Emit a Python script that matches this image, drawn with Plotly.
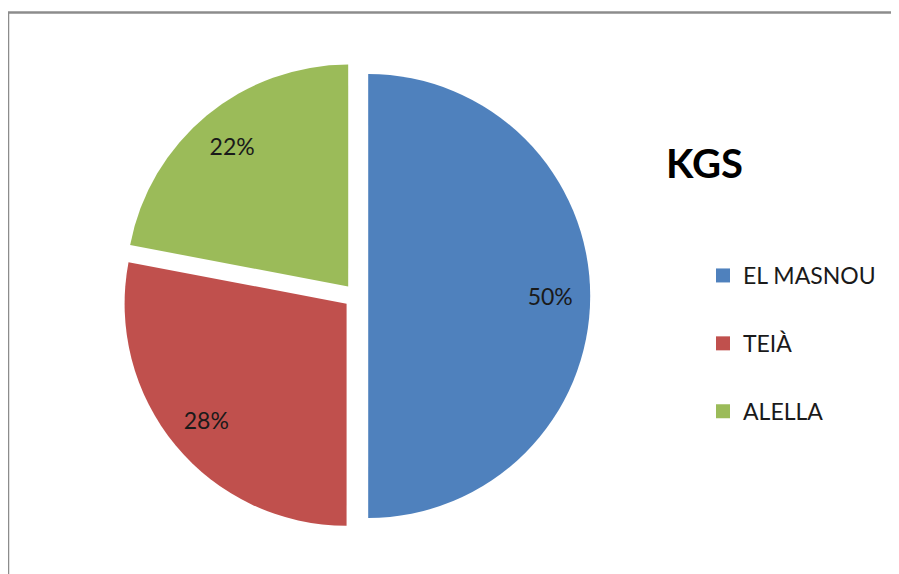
import plotly.graph_objects as go

labels = ["EL MASNOU", "TEIÀ", "ALELLA"]
values = [50, 28, 22]
colors = ["#4F81BD", "#C0504D", "#9BBB59"]
title_text = "KGS"

# page has an 8px body margin; work in page pixel coords and convert
OFF = 8
W, H = 899, 574 - OFF


def px(x):
    return (x - OFF) / W


def py(y):
    return 1 - (y - OFF) / H


cx, cy, rad, pull = 356, 296, 222, 0.055
half = rad * (1 + pull)
domain = dict(x=[px(cx - half), px(cx + half)], y=[py(cy + half), py(cy - half)])

fig = go.Figure()
fig.add_trace(go.Pie(
    labels=labels, values=values, sort=False, direction="clockwise", rotation=0,
    marker=dict(colors=colors, line=dict(width=0)),
    pull=[pull] * len(values), textinfo="none",
    showlegend=False, hoverinfo="label+percent", domain=domain,
))
# transparent ring overlay to place percentage labels near the outer rim
fig.add_trace(go.Pie(
    labels=labels, values=values, sort=False, direction="clockwise", rotation=0,
    hole=0.64,
    marker=dict(colors=["rgba(0,0,0,0)"] * len(values), line=dict(width=0)),
    pull=[pull] * len(values),
    textinfo="percent", textposition="inside", insidetextorientation="horizontal",
    textfont=dict(family="Lato", size=23, color="#1a1a1a"),
    showlegend=False, hoverinfo="skip", domain=domain,
))
for lab, col in zip(labels, colors):
    fig.add_trace(go.Scatter(
        x=[None], y=[None], mode="markers", name=lab, legendgroup=lab,
        marker=dict(symbol="square", size=14, color=col),
    ))

fig.update_layout(
    width=W, height=H, margin=dict(l=0, r=0, t=0, b=0),
    paper_bgcolor="white", plot_bgcolor="white",
    xaxis=dict(visible=False), yaxis=dict(visible=False),
    title=dict(text="<b>" + title_text + "</b>", x=px(666), xanchor="left",
               y=py(164), yanchor="middle",
               font=dict(family="Lato", size=40, color="#000000")),
    legend=dict(x=px(703), xanchor="left", y=py(254), yanchor="top",
                font=dict(family="Lato", size=23, color="#1a1a1a"),
                tracegroupgap=35, bgcolor="rgba(0,0,0,0)"),
    shapes=[
        dict(type="line", xref="paper", yref="paper", x0=px(7), x1=1.02,
             y0=py(12.5), y1=py(12.5), line=dict(color="#8c8c8c", width=2.5)),
        dict(type="line", xref="paper", yref="paper", x0=px(8), x1=px(8),
             y0=-0.02, y1=py(12.5), line=dict(color="#8c8c8c", width=2.5)),
    ],
)
fig.write_html("out.html")
